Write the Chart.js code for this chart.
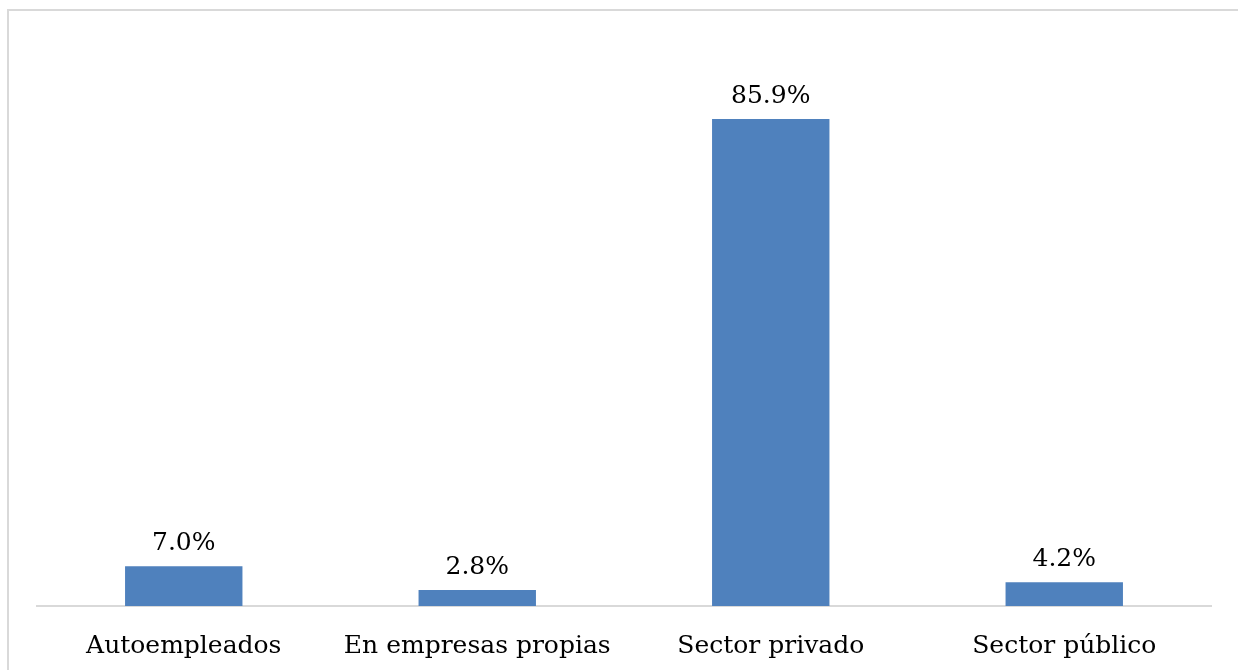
<!DOCTYPE html>
<html>
<head>
    <meta charset="utf-8">
    <title>Ocupados por tipo de empleo</title>
    <script src="https://cdn.jsdelivr.net/npm/chart.js"></script>
    <style>
        body {
            margin: 0;
            padding: 0;
            background-color: #fff;
        }
        .container {
            width: 1238px;
            height: 670px;
            position: relative;
        }
    </style>
</head>
<body>

<div class="container">
    <canvas id="empleoChart"></canvas>
</div>

<script>
    const categorias = ['Autoempleados', 'En empresas propias', 'Sector privado', 'Sector público'];
    const porcentajes = [7.0, 2.8, 85.9, 4.2];

    const fuente = "'DejaVu Serif', serif";

    // marco gris alrededor del gráfico
    const marcoPlugin = {
        id: 'marco',
        beforeDraw(chart) {
            const ctx = chart.ctx;
            ctx.save();
            ctx.strokeStyle = '#d9d9d9';
            ctx.lineWidth = 2;
            ctx.strokeRect(8, 10, 1260, 700);
            ctx.restore();
        }
    };

    // etiquetas de valor encima de cada barra
    const etiquetasPlugin = {
        id: 'etiquetas',
        afterDatasetsDraw(chart) {
            const ctx = chart.ctx;
            const meta = chart.getDatasetMeta(0);
            ctx.save();
            ctx.font = '25px ' + fuente;
            ctx.fillStyle = '#000';
            ctx.textAlign = 'center';
            ctx.textBaseline = 'bottom';
            meta.data.forEach((bar, i) => {
                ctx.fillText(porcentajes[i].toFixed(1) + '%', bar.x, bar.y - 10);
            });
            ctx.restore();
        }
    };

    const ctx = document.getElementById('empleoChart').getContext('2d');
    const empleoChart = new Chart(ctx, {
        type: 'bar',
        data: {
            labels: categorias,
            datasets: [{
                data: porcentajes,
                backgroundColor: '#4f81bd',
                borderWidth: 0,
                barPercentage: 0.4,
                categoryPercentage: 1.0
            }]
        },
        options: {
            responsive: true,
            maintainAspectRatio: false,
            animation: false,
            layout: {
                padding: { left: 37, right: 27, top: 39, bottom: 0 }
            },
            plugins: {
                legend: { display: false },
                tooltip: { enabled: false }
            },
            scales: {
                x: {
                    grid: { display: false, drawTicks: false },
                    border: { color: '#d9d9d9', width: 2 },
                    ticks: {
                        color: '#000',
                        font: { family: fuente, size: 25 },
                        padding: 25,
                        maxRotation: 0
                    },
                    afterFit(scale) {
                        scale.height = 64;
                    }
                },
                y: {
                    display: false,
                    min: 0,
                    max: 100
                }
            }
        },
        plugins: [marcoPlugin, etiquetasPlugin]
    });
</script>

</body>
</html>
